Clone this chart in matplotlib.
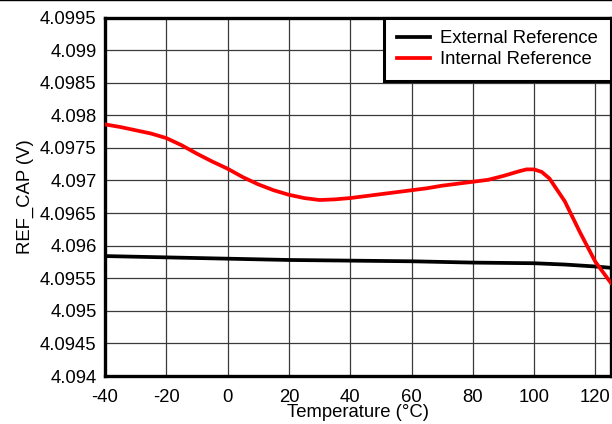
import matplotlib
matplotlib.use('Agg')

import matplotlib.pyplot as plt
from matplotlib.lines import Line2D
from matplotlib.ticker import FuncFormatter

plt.rcParams['font.family'] = ['Liberation Sans', 'DejaVu Sans']
plt.rcParams['axes.unicode_minus'] = False

# readings
temp = [-40, -35, -30, -25, -20, -15, -10, -5, 0, 5, 10, 15, 20, 25, 30, 35,
        40, 45, 50, 55, 60, 65, 70, 75, 80, 85, 90, 95, 97.5, 100, 102.5, 105,
        110, 115, 120, 125]
internal_ref = [4.09786, 4.09782, 4.09777, 4.09772, 4.09765, 4.09754, 4.09741,
                4.09729, 4.09718, 4.09705, 4.09694, 4.09685, 4.09678, 4.09673,
                4.09670, 4.09671, 4.09673, 4.09676, 4.09679, 4.09682, 4.09685,
                4.09688, 4.09692, 4.09695, 4.09698, 4.09701, 4.09707, 4.09714,
                4.09717, 4.09717, 4.09713, 4.09703, 4.09668, 4.09620, 4.09575,
                4.09543]
temp_ext = [-40, -20, 0, 20, 40, 60, 80, 100, 110, 120, 125]
external_ref = [4.09584, 4.09582, 4.09580, 4.09578, 4.09577, 4.09576,
                4.09574, 4.09573, 4.09571, 4.09568, 4.09566]

x_ticks = [-40, -20, 0, 20, 40, 60, 80, 100, 120]
y_ticks = [4.094 + 0.0005 * i for i in range(12)]

fig = plt.figure(figsize=(6.12, 4.24), dpi=100)
ax = fig.add_axes([0.1716, 0.1132, 0.8264, 0.8455])

ax.plot(temp_ext, external_ref, color='black', lw=2.7, label='External Reference',
        zorder=3, solid_joinstyle='round')
ax.plot(temp, internal_ref, color='#ff0000', lw=2.7, label='Internal Reference',
        zorder=4, solid_joinstyle='round')

ax.set_xlim(-40, 125)
ax.set_ylim(4.094, 4.0995)
ax.set_xticks(x_ticks)
ax.set_yticks(y_ticks)
ax.yaxis.set_major_formatter(FuncFormatter(lambda v, p: '%g' % round(v, 4)))
ax.tick_params(length=0, labelsize=13.3, colors='black')
ax.tick_params(axis='x', pad=9)
ax.tick_params(axis='y', pad=6)
ax.grid(True, color='#3a3a3a', lw=0.9)
ax.set_axisbelow(True)
for s in ax.spines.values():
    s.set_linewidth(2.4)

ax.set_xlabel('Temperature (°C)', fontsize=13.3, labelpad=-1)
ax.set_ylabel('REF_CAP (V)', fontsize=13.3, labelpad=4)

leg = ax.legend(loc='upper right', fontsize=13.3, fancybox=False, framealpha=1,
                edgecolor='black', borderaxespad=0, handlelength=1.8,
                handletextpad=0.55, labelspacing=0.2, borderpad=0.7)
leg.get_frame().set_linewidth(2.2)

fig.add_artist(Line2D([0, 1], [0.999, 0.999], color='black', lw=1))

plt.savefig('out.png', dpi=100)
plt.close()
